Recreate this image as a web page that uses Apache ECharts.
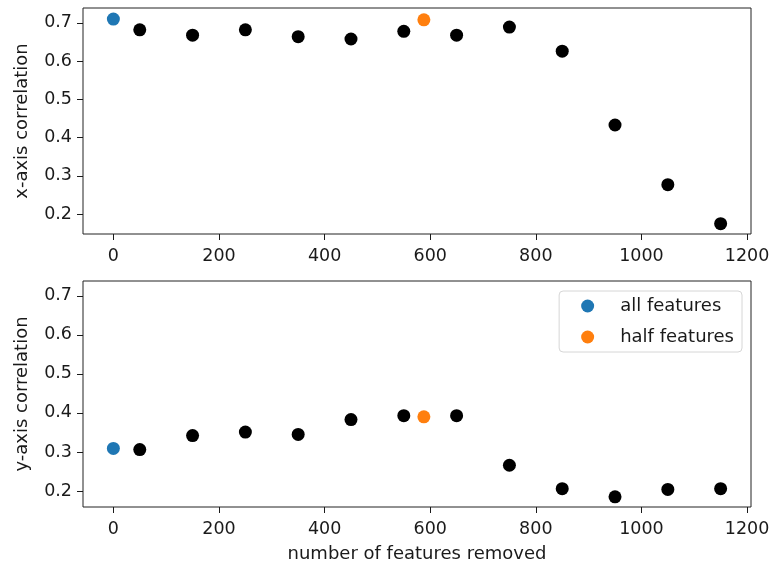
<!DOCTYPE html>
<html>
<head>
<meta charset="utf-8">
<script src="https://cdn.jsdelivr.net/npm/echarts@6/dist/echarts.min.js"></script>
<style>
  html, body { margin: 0; padding: 0; background: #fff; }
  #main { width: 775px; height: 565px; }
</style>
</head>
<body>
<div id="main"></div>
<script>
// features removed for the black points
var removed = [50, 150, 250, 350, 450, 550, 650, 750, 850, 950, 1050, 1150];
// x-axis correlation (top panel)
var xCorr = [0.682, 0.668, 0.682, 0.664, 0.658, 0.678, 0.668, 0.689, 0.626, 0.433, 0.277, 0.175];
// y-axis correlation (bottom panel)
var yCorr = [0.306, 0.342, 0.351, 0.345, 0.383, 0.393, 0.393, 0.266, 0.206, 0.185, 0.204, 0.206];
// reference points
var allX = [0], allXCorr = [0.710], allYCorr = [0.309];
var halfX = [588], halfXCorr = [0.708], halfYCorr = [0.390];
// tick labels
var xTicks = [0, 200, 400, 600, 800, 1000, 1200];
var yTicks = [0.2, 0.3, 0.4, 0.5, 0.6, 0.7];

var chart = echarts.init(document.getElementById('main'));

var font = 'DejaVu Sans';
var txt = '#1a1a1a';
var tickSize = 17.5, nameSize = 18;

function pairs(xs, ys) {
	var out = [];
	for (var i = 0; i < xs.length; i++) out.push([xs[i], ys[i]]);
	return out;
}

function xAxisCfg(idx, withName) {
	return {
		type: 'value', gridIndex: idx,
		min: -57.5, max: 1207.5,
		splitLine: { show: false },
		axisLine: { show: false, onZero: false },
		axisTick: { show: true, length: 6, customValues: xTicks, lineStyle: { color: txt, width: 1 } },
		axisLabel: { customValues: xTicks, color: txt, fontFamily: font, fontSize: tickSize, margin: 13,
			formatter: function(v) { return String(v); } },
		name: withName ? 'number of features removed' : '',
		nameLocation: 'middle', nameGap: 38,
		nameTextStyle: { color: txt, fontFamily: font, fontSize: nameSize }
	};
}

function yAxisCfg(idx, name, lo, hi) {
	return {
		type: 'value', gridIndex: idx,
		min: lo, max: hi,
		splitLine: { show: false },
		axisLine: { show: false, onZero: false },
		axisTick: { show: true, length: 6, customValues: yTicks, lineStyle: { color: txt, width: 1 } },
		axisLabel: { customValues: yTicks, color: txt, fontFamily: font, fontSize: tickSize, margin: 11,
			formatter: function(v) { return v.toFixed(1); } },
		name: name, nameLocation: 'middle', nameGap: 52, nameRotate: 90,
		nameTextStyle: { color: txt, fontFamily: font, fontSize: nameSize }
	};
}

function dots(name, xi, data, color) {
	return {
		name: name, type: 'scatter', xAxisIndex: xi, yAxisIndex: xi,
		symbolSize: 13, itemStyle: { color: color, opacity: 1 }, data: data
	};
}

var option = {
	animation: false,
	backgroundColor: '#fff',
	grid: [
		{ left: 83, top: 8, width: 668, height: 226, show: true, borderColor: '#222', borderWidth: 1, backgroundColor: 'transparent' },
		{ left: 83, top: 281, width: 668, height: 226, show: true, borderColor: '#222', borderWidth: 1, backgroundColor: 'transparent' }
	],
	legend: {
		data: ['all features', 'half features'],
		orient: 'vertical',
		right: 33, top: 291,
		padding: [6, 8, 6, 22],
		itemGap: 13,
		itemWidth: 13, itemHeight: 13,
		icon: 'circle',
		backgroundColor: '#fff',
		borderColor: '#d6d6d6', borderWidth: 1, borderRadius: 4,
		textStyle: { color: txt, fontFamily: font, fontSize: nameSize, padding: [0, 0, 0, 21] }
	},
	xAxis: [xAxisCfg(0, false), xAxisCfg(1, true)],
	yAxis: [yAxisCfg(0, 'x-axis correlation', 0.148, 0.739), yAxisCfg(1, 'y-axis correlation', 0.159, 0.738)],
	series: [
		dots(null, 0, pairs(removed, xCorr), '#000'),
		dots('all features', 0, pairs(allX, allXCorr), '#1f77b4'),
		dots('half features', 0, pairs(halfX, halfXCorr), '#ff7f0e'),
		dots(null, 1, pairs(removed, yCorr), '#000'),
		dots('all features', 1, pairs(allX, allYCorr), '#1f77b4'),
		dots('half features', 1, pairs(halfX, halfYCorr), '#ff7f0e')
	]
};

chart.setOption(option);
</script>
</body>
</html>
